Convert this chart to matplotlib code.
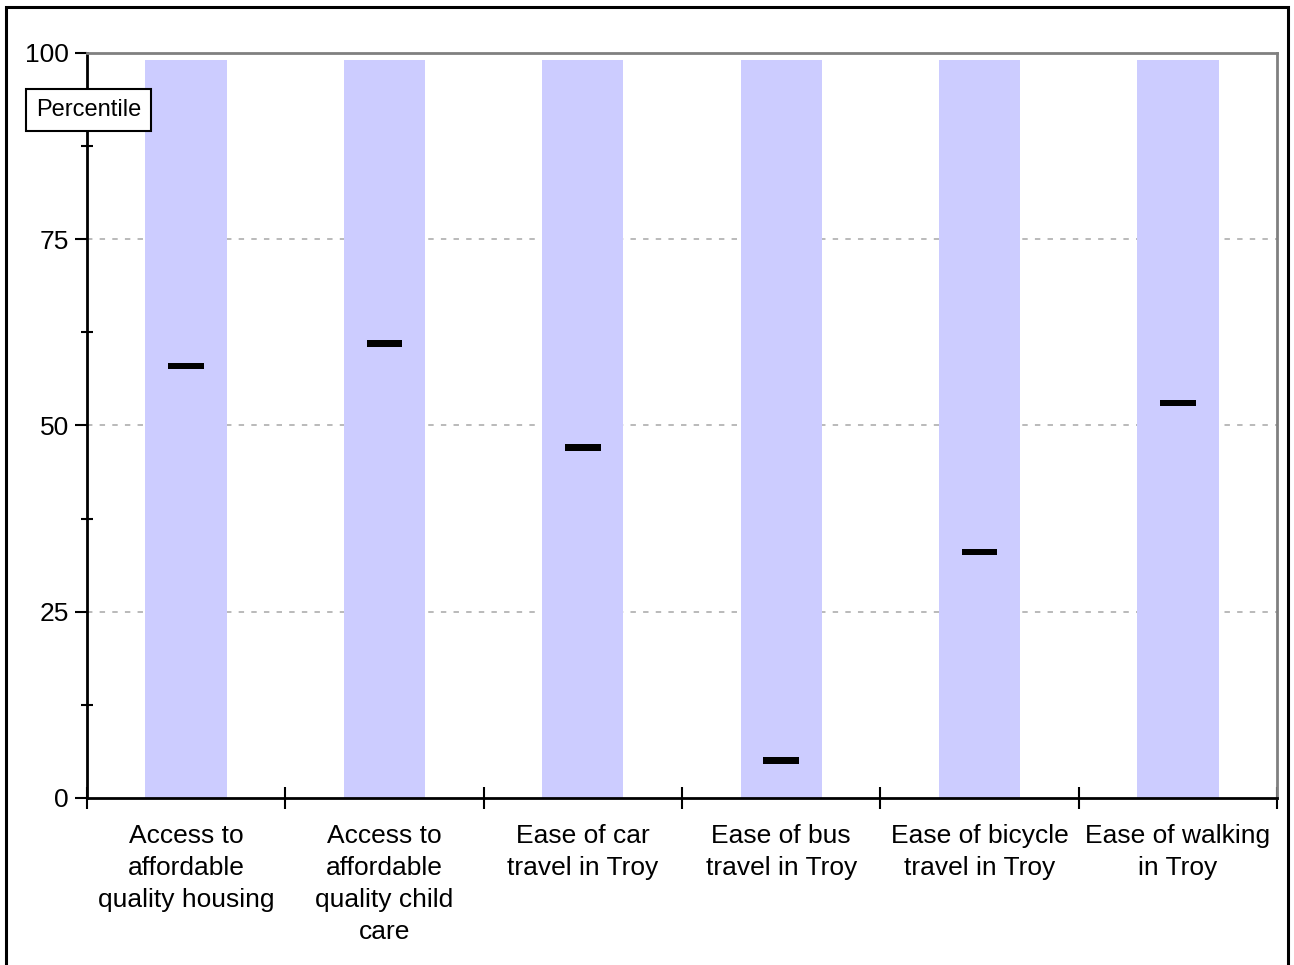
import matplotlib
matplotlib.use("Agg")
import matplotlib.pyplot as plt
from matplotlib.patches import Rectangle
import numpy as np

plt.rcParams['font.family'] = ['Liberation Sans', 'DejaVu Sans']

categories = ["Access to\naffordable\nquality housing",
              "Access to\naffordable\nquality child\ncare",
              "Ease of car\ntravel in Troy",
              "Ease of bus\ntravel in Troy",
              "Ease of bicycle\ntravel in Troy",
              "Ease of walking\nin Troy"]
percentiles = [58, 61, 47, 5, 33, 53]
range_top = [99, 99, 99, 99, 99, 99]
yticks = [0, 25, 50, 75, 100]
minor_yticks = [12.5, 37.5, 62.5, 87.5]

fig = plt.figure(figsize=(12.94, 9.65), dpi=100)
ax = fig.add_axes([0.0672, 0.1731, 0.9197, 0.772])

x = np.arange(len(categories))
ax.bar(x, range_top, width=0.41, color="#ccccff", zorder=2)
ax.bar(x, [0.9] * len(x), bottom=[p - 0.45 for p in percentiles], width=0.18,
       color="black", zorder=3)

ax.set_xlim(-0.5, len(categories) - 0.5)
ax.set_ylim(0, 100)

for g in [25, 50, 75]:
    ax.axhline(g, color="#b4b4b4", lw=1.3, ls=(0, (3, 4)), zorder=1)

ax.set_yticks(yticks)
ax.set_yticklabels([str(t) for t in yticks], fontsize=19)
ax.set_yticks(minor_yticks, minor=True)
ax.tick_params(axis='y', which='major', direction='out', length=9, width=1.5, pad=4)
ax.tick_params(axis='y', which='minor', direction='inout', length=9, width=1.5)

ax.set_xticks(x)
ax.set_xticklabels(categories, fontsize=19, linespacing=1.41)
ax.tick_params(axis='x', which='major', length=0, pad=19)
ax.set_xticks(np.arange(len(categories) + 1) - 0.5, minor=True)
ax.tick_params(axis='x', which='minor', direction='inout', length=16, width=1.5)

for s in ['left', 'bottom']:
    ax.spines[s].set_linewidth(2)
    ax.spines[s].set_color('black')
for s in ['top', 'right']:
    ax.spines[s].set_linewidth(2)
    ax.spines[s].set_color('#808080')

ax.text(-0.49, 92.3, "Percentile", fontsize=17, ha='center', va='center',
        bbox=dict(boxstyle='square,pad=0.42', fc='white', ec='black', lw=1.5),
        zorder=5, clip_on=False)

fig.patches.append(Rectangle((0.005, -0.02), 0.9905, 1.013, transform=fig.transFigure,
                             fill=False, ec='black', lw=2.2))

fig.savefig("out.png", dpi=100)
